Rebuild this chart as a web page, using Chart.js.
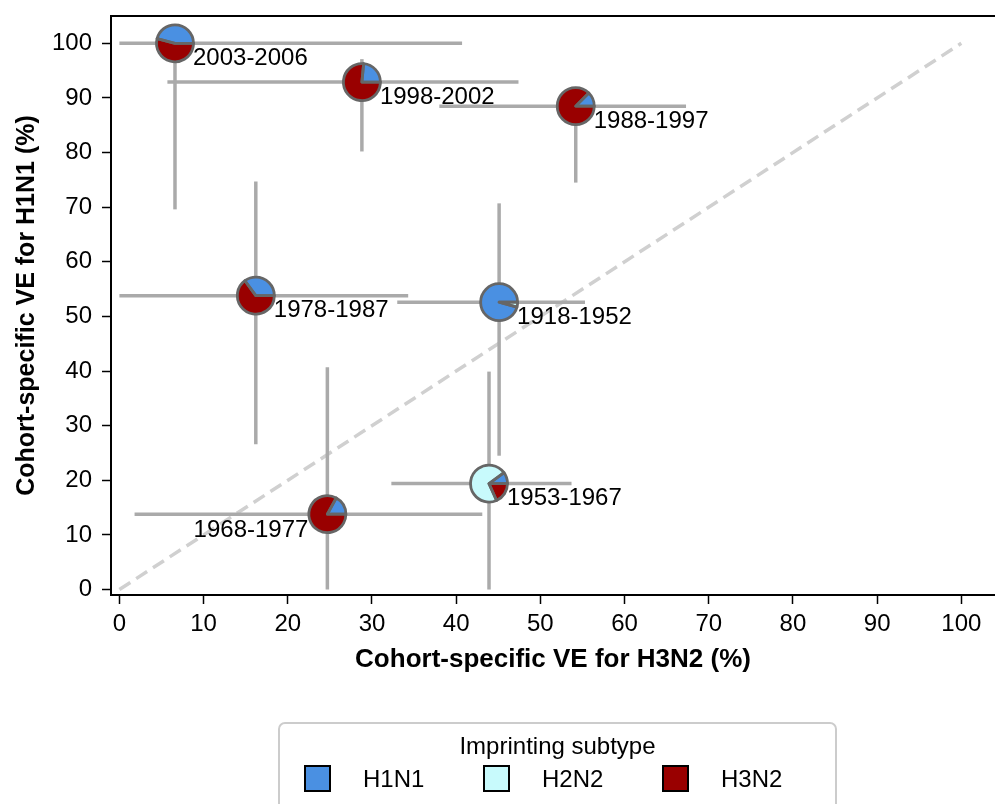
<!DOCTYPE html>
<html>
<head>
<meta charset="utf-8">
<script src="https://cdn.jsdelivr.net/npm/chart.js@4.4.0/dist/chart.umd.min.js"></script>
<style>
  html, body { margin: 0; padding: 0; background: #fff; }
  #wrap { width: 995px; height: 804px; position: relative; }
</style>
</head>
<body>
<div id="wrap"><canvas id="grafico"></canvas></div>
<script>
// === data ===
var cohorts = ['1918-1952', '1953-1967', '1968-1977', '1978-1987', '1988-1997', '1998-2002', '2003-2006'];
var veH3N2   = [45.1, 43.9, 24.7, 16.2, 54.2, 28.8, 6.6];
var veH3N2Lo = [33.0, 32.3, 1.8, 0.0, 38.0, 5.7, 0.0];
var veH3N2Hi = [55.3, 53.7, 43.1, 34.3, 67.3, 47.4, 40.7];
var veH1N1   = [52.6, 19.4, 13.8, 53.8, 88.5, 92.9, 100.0];
var veH1N1Lo = [24.5, 0.0, 0.0, 26.6, 74.5, 80.2, 69.6];
var veH1N1Hi = [70.7, 39.9, 40.7, 74.7, 90.0, 97.1, 100.0];

// imprinting shares per cohort
var shareH1N1 = [0.957, 0.10, 0.17, 0.35, 0.125, 0.235, 0.46];
var shareH2N2 = [0.043, 0.717, 0.0, 0.0, 0.0, 0.0, 0.0];
var shareH3N2 = [0.0, 0.183, 0.83, 0.65, 0.875, 0.765, 0.54];

var subtypes = ['H1N1', 'H2N2', 'H3N2'];
var xTicks = [0, 10, 20, 30, 40, 50, 60, 70, 80, 90, 100];
var yTicks = [0, 10, 20, 30, 40, 50, 60, 70, 80, 90, 100];
var diagX = [0, 100];
var diagY = [0, 100];

// cohort whose label sits left of the marker
var labelLeft = ['1968-1977'];

var subtypeColors = ['#4a90e2', '#c8fafc', '#990000'];
var FONT = "'Liberation Sans', Arial, sans-serif";

Chart.defaults.font.family = FONT;
Chart.defaults.color = '#000';

// === datasets ===
var sets = [];
sets.push({
  type: 'line',
  data: diagX.map(function (v, i) { return { x: v, y: diagY[i] }; }),
  borderColor: '#d0d0d0',
  borderWidth: 3.5,
  borderDash: [13, 7],
  pointRadius: 0,
  order: 10
});
for (var i = 0; i < cohorts.length; i++) {
  sets.push({
    type: 'line',
    data: [{ x: veH3N2Lo[i], y: veH1N1[i] }, { x: veH3N2Hi[i], y: veH1N1[i] }],
    borderColor: '#aaaaaa', borderWidth: 3.5, pointRadius: 0, order: 5
  });
  sets.push({
    type: 'line',
    data: [{ x: veH3N2[i], y: veH1N1Lo[i] }, { x: veH3N2[i], y: veH1N1Hi[i] }],
    borderColor: '#aaaaaa', borderWidth: 3.5, pointRadius: 0, order: 5
  });
}
var pieIndex = sets.length;
sets.push({
  type: 'scatter',
  data: cohorts.map(function (c, i) { return { x: veH3N2[i], y: veH1N1[i] }; }),
  pointRadius: 0,
  pointHoverRadius: 0,
  order: 0
});

function drawPie(ctx, cx, cy, r, shares) {
  var start = 0;
  for (var k = 0; k < shares.length; k++) {
    if (shares[k] <= 0) continue;
    var end = start + shares[k] * 2 * Math.PI;
    ctx.beginPath();
    ctx.moveTo(cx, cy);
    ctx.arc(cx, cy, r, -start, -end, true);
    ctx.closePath();
    ctx.fillStyle = subtypeColors[k];
    ctx.fill();
    start = end;
  }
  // wedge edges
  start = 0;
  ctx.strokeStyle = '#666666';
  ctx.lineWidth = 2.8;
  ctx.lineJoin = 'round';
  for (var k = 0; k < shares.length; k++) {
    if (shares[k] <= 0) continue;
    var end = start + shares[k] * 2 * Math.PI;
    ctx.beginPath();
    ctx.moveTo(cx, cy);
    ctx.arc(cx, cy, r, -start, -end, true);
    ctx.closePath();
    ctx.stroke();
    start = end;
  }
}

// pies, labels, frame and legend
var piePlugin = {
  id: 'piePlugin',
  afterDatasetsDraw: function (chart) {
    var ctx = chart.ctx;
    var meta = chart.getDatasetMeta(pieIndex);
    ctx.save();
    meta.data.forEach(function (pt, i) {
      drawPie(ctx, pt.x, pt.y, 18.5, [shareH1N1[i], shareH2N2[i], shareH3N2[i]]);
      ctx.font = '24px ' + FONT;
      ctx.fillStyle = '#000';
      ctx.textBaseline = 'middle';
      if (labelLeft.indexOf(cohorts[i]) >= 0) {
        ctx.textAlign = 'right';
        ctx.fillText(cohorts[i], pt.x - 19, pt.y + 16);
      } else {
        ctx.textAlign = 'left';
        ctx.fillText(cohorts[i], pt.x + 18, pt.y + 15);
      }
    });
    ctx.restore();
  },
  afterDraw: function (chart) {
    var ctx = chart.ctx;
    var a = chart.chartArea;
    ctx.save();
    // top frame line
    ctx.strokeStyle = '#000';
    ctx.lineWidth = 2;
    ctx.beginPath();
    ctx.moveTo(a.left - 1, a.top);
    ctx.lineTo(chart.width, a.top);
    ctx.stroke();

    // legend box
    var lx = 279, ly = 723, lw = 557, lh = 100;
    ctx.strokeStyle = '#cccccc';
    ctx.lineWidth = 2;
    ctx.beginPath();
    ctx.roundRect(lx, ly, lw, lh, 6);
    ctx.fillStyle = '#fff';
    ctx.fill();
    ctx.stroke();

    ctx.fillStyle = '#000';
    ctx.font = '24px ' + FONT;
    ctx.textAlign = 'center';
    ctx.textBaseline = 'middle';
    ctx.fillText('Imprinting subtype', lx + lw / 2, 747);

    ctx.textAlign = 'left';
    for (var k = 0; k < subtypes.length; k++) {
      var bx = 305 + k * 179;
      ctx.fillStyle = subtypeColors[k];
      ctx.fillRect(bx, 766, 25, 25);
      ctx.strokeStyle = '#000';
      ctx.lineWidth = 2;
      ctx.strokeRect(bx, 766, 25, 25);
      ctx.fillStyle = '#000';
      ctx.fillText(subtypes[k], bx + 58, 780);
    }
    ctx.restore();
  }
};

var ctxG = document.getElementById('grafico');
new Chart(ctxG, {
  type: 'scatter',
  data: { datasets: sets },
  options: {
    responsive: true,
    maintainAspectRatio: false,
    animation: false,
    events: [],
    layout: { padding: { top: 16, right: 0, bottom: 129, left: 0 } },
    plugins: { legend: { display: false }, tooltip: { enabled: false } },
    scales: {
      x: {
        type: 'linear',
        min: -1,
        max: 104,
        afterBuildTicks: function (scale) {
          scale.ticks = xTicks.map(function (v) { return { value: v }; });
        },
        afterFit: function (scale) { scale.height = 80; },
        ticks: { font: { size: 24 }, padding: 6, color: '#000', maxRotation: 0 },
        grid: { drawOnChartArea: false, drawTicks: true, tickLength: 9, tickWidth: 1.5, tickColor: '#000' },
        border: { display: true, color: '#000', width: 2 },
        title: {
          display: true,
          text: 'Cohort-specific VE for H3N2 (%)',
          font: { size: 26, weight: 'bold' },
          color: '#000',
          padding: { top: 0, bottom: 0 }
        }
      },
      y: {
        type: 'linear',
        min: -1,
        max: 105,
        afterBuildTicks: function (scale) {
          scale.ticks = yTicks.map(function (v) { return { value: v }; });
        },
        afterFit: function (scale) {
          scale.width = 111;
          scale.paddingTop = 0;
          scale.paddingBottom = 0;
        },
        ticks: { font: { size: 24 }, padding: 10, color: '#000' },
        grid: { drawOnChartArea: false, drawTicks: true, tickLength: 9, tickWidth: 1.5, tickColor: '#000' },
        border: { display: true, color: '#000', width: 2 },
        title: {
          display: true,
          text: 'Cohort-specific VE for H1N1 (%)',
          font: { size: 25, weight: 'bold' },
          color: '#000',
          padding: { top: 12, bottom: 0 }
        }
      }
    }
  },
  plugins: [piePlugin]
});
</script>
</body>
</html>
